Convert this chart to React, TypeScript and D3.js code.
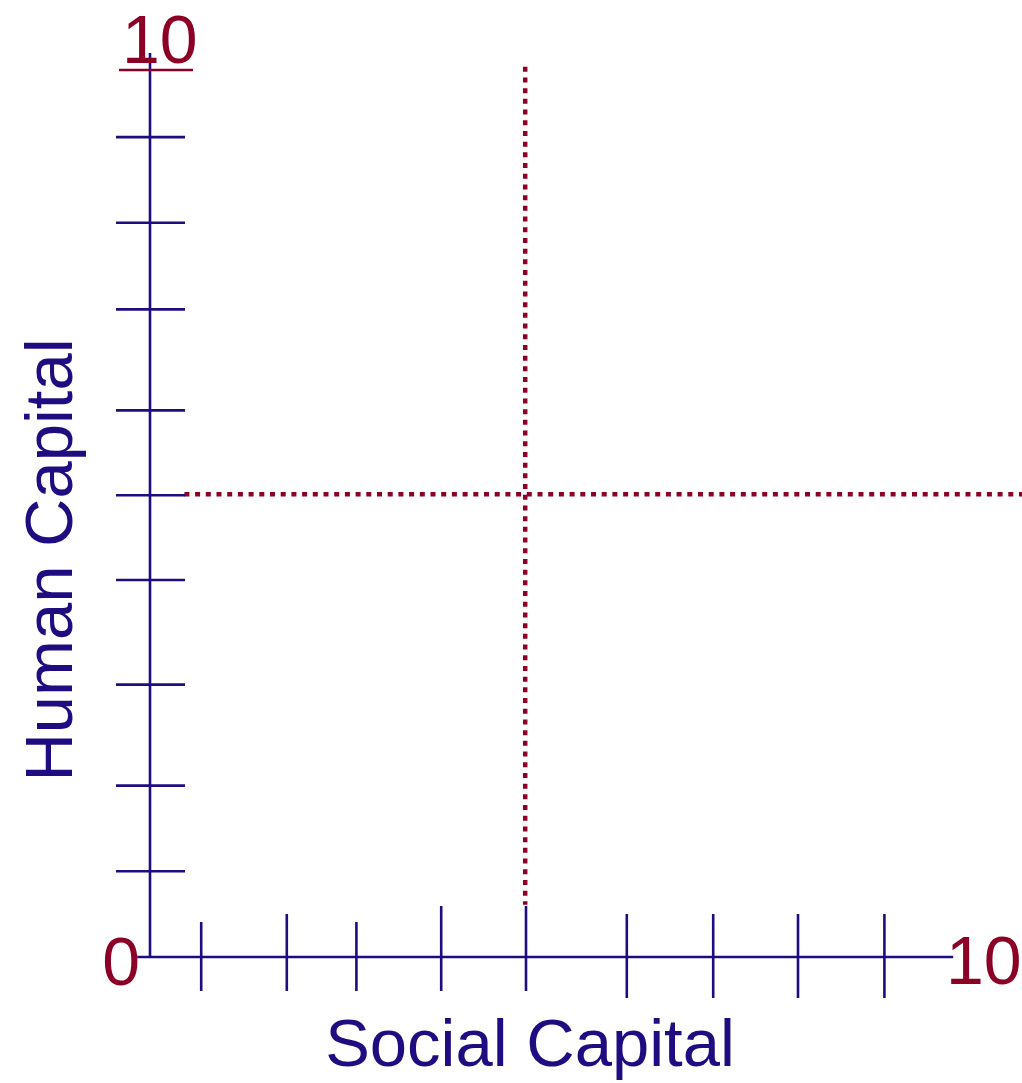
import React from "react";
import * as d3 from "d3";

// tick values (axis units 0..10)
const xTicks = [0.64, 1.71, 2.58, 3.64, 4.7, 5.96, 7.04, 8.1, 9.18];
const yTicks = [0.95, 1.9, 3.02, 4.18, 5.12, 6.06, 7.18, 8.14, 9.09];
const xLabels = { min: "0", max: "10" };
const yLabels = { max: "10" };
const xTitle = "Social Capital";
const yTitle = "Human Capital";
// the dotted cross
const crossX = 4.69;
const crossY = 5.13;

const NAVY = "#1e0c80";
const RED = "#8c0026";
const FONT = "'Liberation Sans', Arial, sans-serif";

export default function App() {
  const ref = React.useRef<SVGSVGElement | null>(null);

  React.useEffect(() => {
    if (!ref.current) return;
    const svg = d3.select(ref.current);
    svg.selectAll("*").remove();

    const x = d3.scaleLinear().domain([0, 10]).range([150, 950]);
    const y = d3.scaleLinear().domain([0, 10]).range([957, 55]);

    // uneven tick lengths, like the drawing
    const upLen = [35, 43, 35, 51, 51, 43, 43, 43, 43];
    const downLen = [34, 34, 34, 34, 34, 41, 41, 41, 41];

    // dotted lines
    svg
      .append("line")
      .attr("x1", x(crossX))
      .attr("x2", x(crossX))
      .attr("y1", y(9.87))
      .attr("y2", y(0.58))
      .attr("stroke", RED)
      .attr("stroke-width", 4.5)
      .attr("stroke-dasharray", "5 5.7");
    svg
      .append("line")
      .attr("x1", x(0.43))
      .attr("x2", 1030)
      .attr("y1", y(crossY))
      .attr("y2", y(crossY))
      .attr("stroke", RED)
      .attr("stroke-width", 4.5)
      .attr("stroke-dasharray", "5 5.7");

    const axes = svg.append("g").attr("stroke", NAVY).attr("stroke-width", 2.6);
    // y axis
    axes
      .append("line")
      .attr("x1", x(0))
      .attr("x2", x(0))
      .attr("y1", y(10) - 2)
      .attr("y2", y(0));
    axes
      .selectAll(".yt")
      .data(yTicks)
      .join("line")
      .attr("x1", x(0) - 34)
      .attr("x2", x(0) + 35)
      .attr("y1", d => y(d))
      .attr("y2", d => y(d));
    // x axis
    axes
      .append("line")
      .attr("x1", x(-0.16))
      .attr("x2", x(10.04))
      .attr("y1", y(0))
      .attr("y2", y(0));
    axes
      .selectAll(".xt")
      .data(xTicks)
      .join("line")
      .attr("x1", d => x(d))
      .attr("x2", d => x(d))
      .attr("y1", (_, i) => y(0) - upLen[i])
      .attr("y2", (_, i) => y(0) + downLen[i]);

    // end labels
    const lab = svg.append("g").attr("fill", RED).attr("font-family", FONT).attr("font-size", 68);
    lab
      .append("text")
      .attr("x", x(0) - 10)
      .attr("y", y(0) + 28)
      .attr("text-anchor", "end")
      .text(xLabels.min);
    lab
      .append("text")
      .attr("x", x(10) - 4)
      .attr("y", y(0) + 27)
      .text(xLabels.max);
    lab
      .append("text")
      .attr("x", x(0) - 28)
      .attr("y", y(10) + 8)
      .text(yLabels.max);
    svg
      .append("line")
      .attr("x1", x(0) - 31)
      .attr("x2", x(0) + 43)
      .attr("y1", y(10) + 15)
      .attr("y2", y(10) + 15)
      .attr("stroke", RED)
      .attr("stroke-width", 2.6);

    // titles
    svg
      .append("text")
      .attr("x", 530)
      .attr("y", 1066)
      .attr("text-anchor", "middle")
      .attr("fill", NAVY)
      .attr("font-family", FONT)
      .attr("font-size", 67)
      .text(xTitle);
    svg
      .append("text")
      .attr("transform", "translate(72,560) rotate(-90)")
      .attr("text-anchor", "middle")
      .attr("fill", NAVY)
      .attr("font-family", FONT)
      .attr("font-size", 67)
      .text(yTitle);
  }, []);

  return (
    <svg
      ref={ref}
      width={1022}
      height={1083}
      style={{ position: "absolute", left: 0, top: 0, background: "#fff" }}
    ></svg>
  );
}
